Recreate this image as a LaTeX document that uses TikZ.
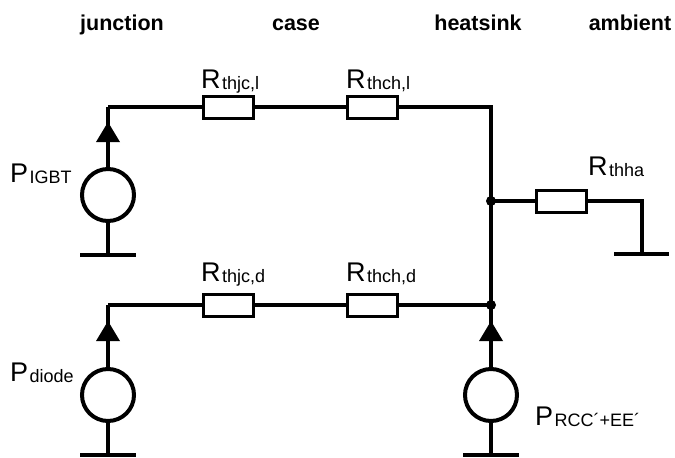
\documentclass[tikz,border=0pt]{standalone}
\usepackage{fontspec}
\setmainfont{Liberation Sans}
\usetikzlibrary{calc}
\newcommand\subtxt[1]{\hspace{1.5pt}\raisebox{-1.5pt}{\fontsize{18}{18}\selectfont #1}}
\begin{document}
\begin{tikzpicture}[x=1pt,y=-1pt,
  wire/.style={line width=4pt,line join=miter},
  res/.style={draw,line width=3pt,fill=white,rectangle,minimum width=50pt,minimum height=22pt,inner sep=0pt},
  src/.style={draw,line width=4pt,circle,minimum size=52pt,inner sep=0pt},
  lbl/.style={anchor=base west,inner sep=0pt,font=\fontsize{27}{27}\selectfont},
  ttl/.style={anchor=base,inner sep=0pt,font=\bfseries\fontsize{21.5}{21.5}\selectfont}]
\useasboundingbox (0,0) rectangle (675,458);
% titles
\node[ttl] (tJ) at (122,30) {junction};
\node[ttl] (tC) at (296,30) {case};
\node[ttl] (tH) at (478,30) {heatsink};
\node[ttl] (tA) at (630,30) {ambient};
% coordinates
\coordinate (cTL) at (108,107);
\coordinate (cTR) at (491,107);
\coordinate (jHA) at (491,201);
\coordinate (cHAR) at (642,201);
\coordinate (gHA) at (642,254);
\coordinate (cBL) at (108,305);
\coordinate (jB) at (491,305);
\coordinate (gIGBT) at (108,255);
\coordinate (gDiode) at (108,455);
\coordinate (gRCC) at (491,455);
% wires
\draw[wire] (cTL) -- (cTR) -- (jB);
\draw[wire] (jHA) -- (cHAR) -- (gHA);
\draw[wire] (cBL) -- (jB);
% sources
\node[src] (sIGBT) at (108,195) {};
\node[src] (sDiode) at (108,395) {};
\node[src] (sRCC) at (491,395) {};
\draw[wire] (sIGBT.north) -- (cTL);
\draw[wire] (sDiode.north) -- (cBL);
\draw[wire] (sRCC.north) -- (jB);
\draw[wire] (sIGBT.south) -- (gIGBT);
\draw[wire] (sDiode.south) -- (gDiode);
\draw[wire] (sRCC.south) -- (gRCC);
% arrow heads
\fill ($(cTL)+(0,15)$) -- ++(-12,20) -- ++(24,0) -- cycle;
\fill ($(cBL)+(0,16)$) -- ++(-12,20) -- ++(24,0) -- cycle;
\fill ($(jB)+(0,16)$) -- ++(-12,20) -- ++(24,0) -- cycle;
% grounds
\draw[line width=4pt] ($(gIGBT)+(-28,0)$) -- ($(gIGBT)+(28,0)$);
\draw[line width=4pt] ($(gDiode)+(-28,0)$) -- ($(gDiode)+(28,0)$);
\draw[line width=4pt] ($(gRCC)+(-28,0)$) -- ($(gRCC)+(28,0)$);
\draw[line width=4pt] ($(gHA)+(-28,0)$) -- ($(gHA)+(27,0)$);
% resistors
\node[res] (rJCl) at (228,107) {};
\node[res] (rCHl) at (372.5,107) {};
\node[res] (rHA) at (561.5,201) {};
\node[res] (rJCd) at (228,305) {};
\node[res] (rCHd) at (372.5,305) {};
% junction dots
\fill (jHA) circle (5);
\fill (jB) circle (5);
% labels
\node[lbl] (lJCl) at (201,88) {R\subtxt{thjc,l}};
\node[lbl] (lCHl) at (346,88) {R\subtxt{thch,l}};
\node[lbl] (lHA) at (588,175) {R\subtxt{thha}};
\node[lbl] (lJCd) at (201,281) {R\subtxt{thjc,d}};
\node[lbl] (lCHd) at (346,281) {R\subtxt{thch,d}};
\node[lbl] (lIGBT) at (10,182) {P\subtxt{IGBT}};
\node[lbl] (lDiode) at (10,381) {P\subtxt{diode}};
\node[lbl] (lRCC) at (535,425) {P\subtxt{RCC´+EE´}};
\end{tikzpicture}
\end{document}
